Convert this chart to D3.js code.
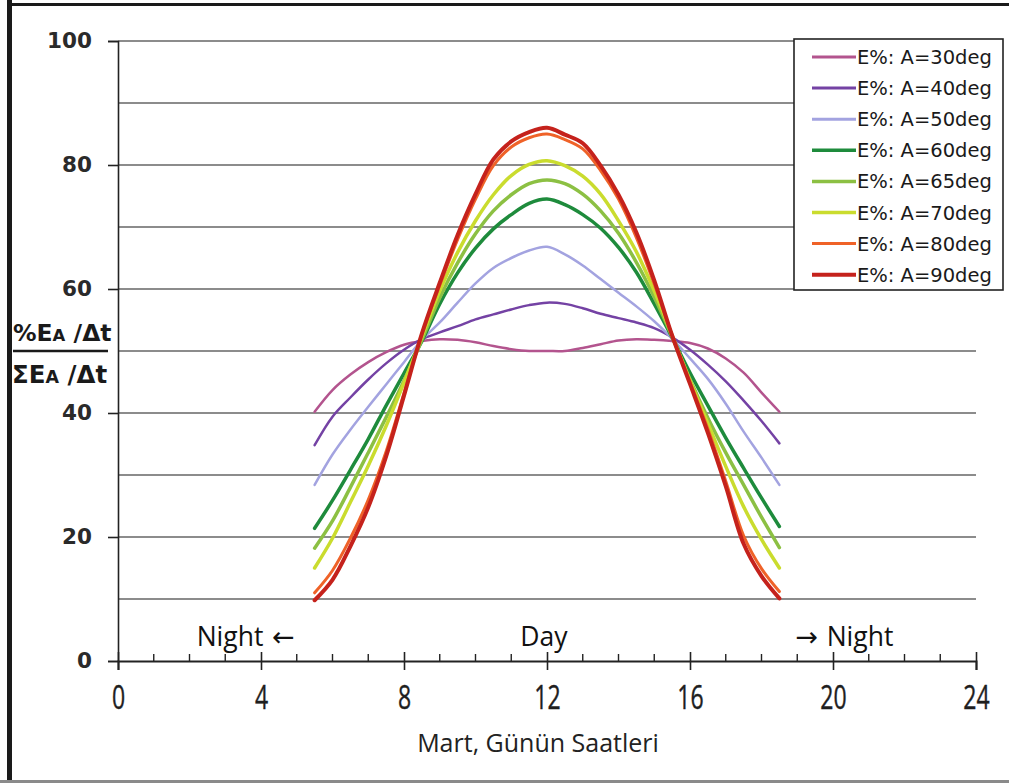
<!DOCTYPE html>
<html><head><meta charset="utf-8">
<script src="https://cdn.jsdelivr.net/npm/d3@7"></script>
<style>body{margin:0;background:#fff}svg{display:block}</style>
</head><body><svg id="c" width="1009" height="783"></svg>
<script>
// ---- data ----
const hours = [5.5,6,6.5,7,7.5,8,8.5,9,9.5,10,10.5,11,11.5,12,12.5,13,13.5,14,14.5,15,15.5,16,16.5,17,17.5,18,18.5];
const a30 = [40.2,43.7,46.2,48.2,49.8,51.0,51.6,51.9,51.8,51.4,50.8,50.3,50.0,50.0,50.0,50.5,51.1,51.7,51.9,51.8,51.6,51.3,50.4,48.8,46.5,43.3,40.2];
const a40 = [34.8,39.4,42.5,45.4,48.0,50.2,51.9,53.0,54.0,55.1,55.9,56.7,57.4,57.8,57.6,56.9,56.0,55.3,54.6,53.7,52.2,50.2,47.8,45.1,42.0,38.7,35.1];
const a50 = [28.4,33.3,37.3,41.0,44.6,48.2,51.8,54.6,57.8,60.9,63.4,65.0,66.2,66.8,65.6,63.8,61.6,59.4,57.2,54.8,52.0,48.8,45.5,41.5,37.0,32.8,28.4];
const a60 = [21.4,25.9,30.8,35.8,41.2,46.4,51.6,57.6,62.6,66.6,69.7,72.0,73.8,74.5,73.6,72.0,69.8,66.7,62.7,57.6,52.2,46.5,41.2,36.0,31.1,26.3,21.7];
const a65 = [18.2,22.6,28.0,33.6,39.3,45.2,51.8,58.6,64.2,68.9,72.6,75.2,77.0,77.6,77.0,75.3,72.6,69.0,64.3,58.7,52.3,45.4,39.2,33.6,28.4,23.2,18.3];
const a70 = [15.0,19.8,25.6,31.5,37.9,44.9,52.3,59.7,65.9,71.0,75.2,78.3,80.1,80.7,79.9,78.2,75.3,71.0,66.0,59.7,52.5,45.2,38.3,31.4,24.9,19.6,15.0];
const a80 = [11.0,14.6,19.8,26.0,33.8,43.2,52.7,60.6,68.0,74.5,79.9,82.9,84.4,85.0,84.1,82.6,79.1,74.5,68.3,60.8,52.5,45.0,37.4,29.0,20.2,14.9,11.2];
const a90 = [9.8,13.1,18.5,24.8,33.0,42.8,52.8,61.0,68.7,75.3,80.9,83.8,85.3,86.0,84.9,83.5,79.9,75.2,69.1,61.4,52.5,44.7,36.8,28.2,18.9,13.7,10.1];
const seriesNames = ["E%: A=30deg","E%: A=40deg","E%: A=50deg","E%: A=60deg","E%: A=65deg","E%: A=70deg","E%: A=80deg","E%: A=90deg"];
const seriesValues = [a30,a40,a50,a60,a65,a70,a80,a90];
const seriesColors = ["#b3548e","#7442a4","#a3a3e0","#1e8b3c","#8cc043","#cadc2e","#ef6228","#c5221c"];
const seriesWidths = [2.5,2.5,2.5,3.5,3.5,3.5,3,4];
const xTicks = [0,4,8,12,16,20,24];
const xMinor = [1,2,3,5,6,7,9,10,11,13,14,15,17,18,19,21,22,23];
const yTicks = [0,20,40,60,80,100];
const yGrid = [10,20,30,40,50,60,70,80,90,100];
const notes = [{w:"Night",arrow:"\u2190",h:2.2,after:true},{w:"Day",arrow:"",h:11.25,after:true},{w:"Night",arrow:"\u2192",h:18.95,after:false}];

// ---- chart ----
const svg = d3.select("#c");
const x = d3.scaleLinear().domain([0,24]).range([118,976]);
const y = d3.scaleLinear().domain([0,100]).range([661,41]);

// frame
svg.append("rect").attr("x",7).attr("y",0).attr("width",5).attr("height",783).attr("fill","#1a1a1a");
svg.append("rect").attr("x",7).attr("y",3).attr("width",1002).attr("height",3).attr("fill","#1a1a1a");
svg.append("rect").attr("x",0).attr("y",780).attr("width",1009).attr("height",3).attr("fill","#8a8a8a");

// grid
svg.append("g").selectAll("line").data(yGrid).join("line")
  .attr("x1",x(0)).attr("x2",x(24)).attr("y1",d=>y(d)).attr("y2",d=>y(d))
  .attr("stroke","#8c8c8c").attr("stroke-width",2);

// y axis
const ya = svg.append("g").attr("transform",`translate(${x(0)},0)`)
  .call(d3.axisLeft(y).tickValues(yTicks).tickSize(10).tickPadding(16).tickFormat(d3.format("d")));
ya.select(".domain").attr("stroke","#222").attr("stroke-width",1.6);
ya.selectAll(".tick line").attr("stroke","#222").attr("stroke-width",1.6);
ya.selectAll(".tick text").attr("font-family","DejaVu Sans").attr("font-weight","bold")
  .attr("font-size",21.5).attr("fill","#2a2a2a");

// x axis
const xa = svg.append("g").attr("transform",`translate(0,${y(0)})`)
  .call(d3.axisBottom(x).tickValues(xTicks).tickSize(9).tickFormat(d3.format("d")));
xa.select(".domain").attr("stroke","#222").attr("stroke-width",2);
xa.selectAll(".tick line").attr("y1",-9).attr("stroke","#222").attr("stroke-width",1.6);
xa.selectAll(".tick text").attr("x",0).attr("y",0).attr("dy",0)
  .attr("transform","translate(0,48) scale(0.72,1)")
  .attr("font-family","Open Sans").attr("font-size",32).attr("fill","#1e1e1e")
  .attr("stroke","#1e1e1e").attr("stroke-width",0.4);
xa.append("g").selectAll("line").data(xMinor).join("line")
  .attr("x1",d=>x(d)).attr("x2",d=>x(d)).attr("y1",-7).attr("y2",0)
  .attr("stroke","#222").attr("stroke-width",1.4);

svg.append("text").attr("x",538).attr("y",752).attr("text-anchor","middle")
  .attr("font-family","Open Sans").attr("font-size",25).attr("fill","#222")
  .text("Mart, G\u00fcn\u00fcn Saatleri");

// annotations
const nt = svg.append("g").selectAll("text").data(notes).join("text")
  .attr("x",d=>x(d.h)).attr("y",646)
  .attr("font-family","Open Sans").attr("font-size",26.5).attr("fill","#111");
nt.each(function(d){
  const t = d3.select(this);
  if (!d.after) { t.append("tspan").attr("font-family","DejaVu Sans").attr("font-size",27).text(d.arrow+" "); }
  t.append("tspan").text(d.w);
  if (d.after && d.arrow) { t.append("tspan").attr("font-family","DejaVu Sans").attr("font-size",27).text(" "+d.arrow); }
});

// y label (fraction)
const yl = svg.append("g").attr("font-family","DejaVu Sans").attr("font-weight","bold").attr("fill","#1a1a1a");
const t1 = yl.append("text").attr("x",13).attr("y",341).attr("font-size",23.5);
t1.append("tspan").text("%E");
t1.append("tspan").attr("font-size",16.5).text("A");
t1.append("tspan").text(" /\u0394t");
yl.append("line").attr("x1",13).attr("x2",108).attr("y1",351).attr("y2",351).attr("stroke","#1a1a1a").attr("stroke-width",2.5);
const t2 = yl.append("text").attr("x",12).attr("y",383).attr("font-size",24.5);
t2.append("tspan").text("\u03a3E");
t2.append("tspan").attr("font-size",17.5).text("A");
t2.append("tspan").text(" /\u0394t");

// curves
const line = d3.line().x((d,i)=>x(hours[i])).y(d=>y(d)).curve(d3.curveCatmullRom.alpha(0.5));
svg.append("g").selectAll("path").data(seriesValues).join("path")
  .attr("d",line).attr("fill","none")
  .attr("stroke",(d,i)=>seriesColors[i]).attr("stroke-width",(d,i)=>seriesWidths[i])
  .attr("stroke-linejoin","round").attr("stroke-linecap","round");

// legend
const lg = svg.append("g");
lg.append("rect").attr("x",794).attr("y",39).attr("width",209).attr("height",251)
  .attr("fill","#fff").attr("stroke","#222").attr("stroke-width",1.6);
const rows = lg.selectAll("g.r").data(seriesNames).join("g").attr("class","r")
  .attr("transform",(d,i)=>`translate(0,${57+i*31.1})`);
rows.append("line").attr("x1",812).attr("x2",856).attr("y1",0).attr("y2",0)
  .attr("stroke",(d,i)=>seriesColors[i]).attr("stroke-width",(d,i)=>Math.max(3,seriesWidths[i]));
rows.append("text").attr("x",857).attr("y",7).attr("font-family","DejaVu Sans")
  .attr("font-size",19.5).attr("fill","#1a1a1a").text(d=>d);
</script></body></html>
